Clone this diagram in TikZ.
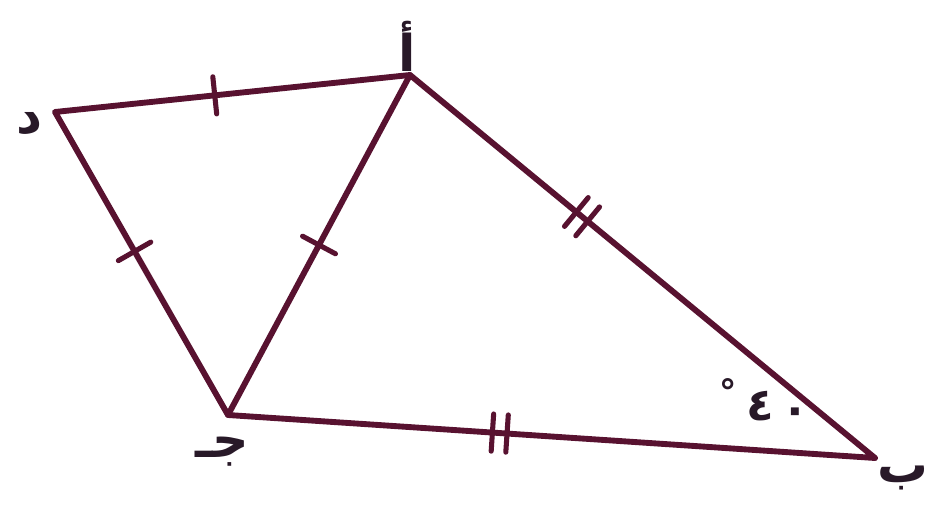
\documentclass[tikz,border=0pt]{standalone}
\usepackage{fontspec}
\newfontfamily\arabicfont[Script=Arabic]{DejaVu Sans}
\newfontfamily\symfont{DejaVu Sans}
\usetikzlibrary{decorations.markings}
\definecolor{edgecol}{RGB}{88,18,48}
\definecolor{labcol}{RGB}{40,25,40}
\tikzset{
  edge/.style={draw=edgecol, line width=4.4pt, line cap=round, line join=round},
  onetick/.style={postaction={decorate, decoration={markings,
     mark=at position #1 with {\draw[edgecol, line width=3.8pt, line cap=round] (0,-14pt) -- (0,14pt);}}}},
  twotick/.style={postaction={decorate, decoration={markings,
     mark=at position #1 with {\draw[edgecol, line width=3.8pt, line cap=round] (-5.5pt,-14pt) -- (-5.5pt,14pt) (5.5pt,-14pt) -- (5.5pt,14pt);}}}},
  lab/.style={text=labcol, font=\fontsize{38}{42}\selectfont\bfseries\arabicfont, inner sep=0pt},
  anglab/.style={text=labcol, font=\fontsize{34}{38}\selectfont\bfseries\arabicfont, inner sep=0pt}
}
\begin{document}
\begin{tikzpicture}[x=0.75pt, y=-0.75pt]
\useasboundingbox[fill=white] (0,0) rectangle (939,520);
\coordinate (D) at (55,112);
\coordinate (A) at (410,75);
\coordinate (J) at (228,415);
\coordinate (B) at (875,458);
\draw[edge] (D) -- (A) -- (B) -- (J) -- cycle;
\draw[edge] (A) -- (J);
\path[onetick=0.45] (D) -- (A);
\path[onetick=0.46] (D) -- (J);
\path[onetick=0.5] (A) -- (J);
\path[twotick=0.37] (A) -- (B);
\path[twotick=0.42] (J) -- (B);
\node[lab] (lD) at (30,124) {د};
\node[lab] (lA) at (407,46) {أ};
\node[lab] (lJ) at (222,452) {جـ};
\node[lab] (lB) at (903,478) {ب};
\node[anglab, font=\fontsize{26}{28}\selectfont\bfseries\symfont] (deg) at (728,392) {°};
\node[anglab] (four) at (760,406) {٤};
\node[anglab] (zero) at (795,416) {٠};
\end{tikzpicture}
\end{document}
